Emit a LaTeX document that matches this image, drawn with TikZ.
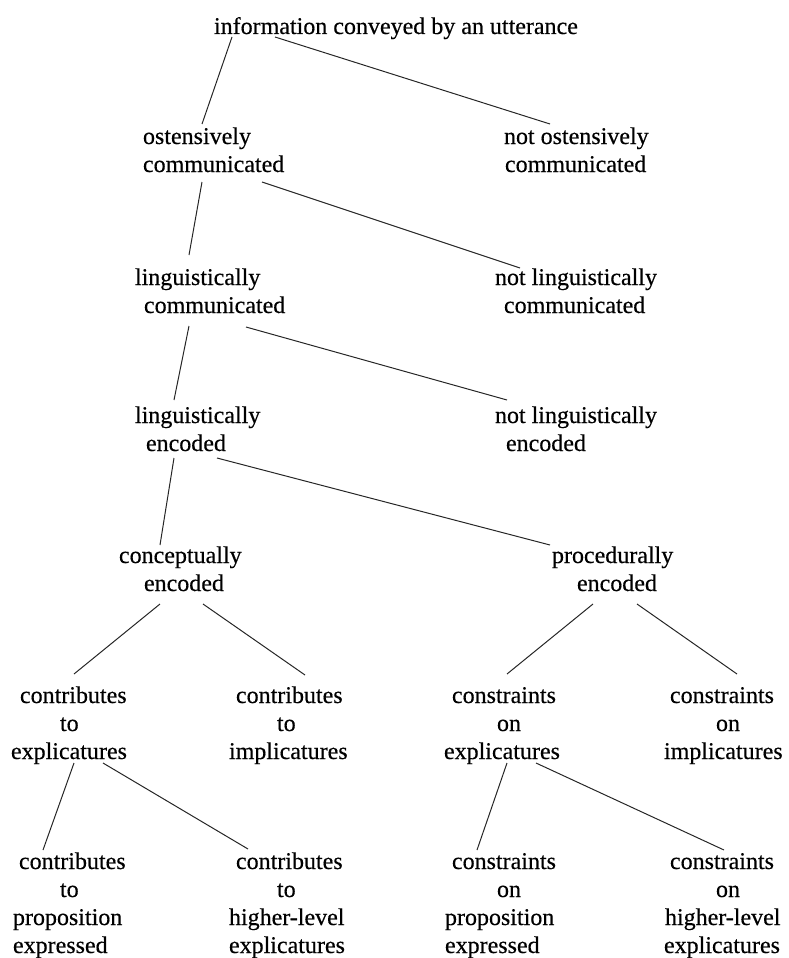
\documentclass[tikz,border=0pt]{standalone}
\usepackage{fontspec}
\setmainfont{Liberation Serif}
\newfontfamily\diagfont[FakeBold=0.4]{Liberation Serif}
\newcommand{\firststrut}{\rule{0pt}{17pt}}
\newcommand{\ind}[1]{\hspace*{#1pt}}
\tikzset{
  blk/.style={anchor=north west, inner sep=0pt, outer sep=0pt, align=left,
              font=\diagfont\fontsize{24}{28}\selectfont, text=black},
  conn/.style={line width=1pt, draw=black!85}
}
\begin{document}
\begin{tikzpicture}[x=1pt,y=1pt]
\useasboundingbox (0,0) rectangle (789,-958);

\node[blk] (info) at (214,-17) {\firststrut information conveyed by an utterance};

\node[blk] (ost) at (143,-127) {\firststrut ostensively\\communicated};
\node[blk] (nost) at (504,-127) {\firststrut not ostensively\\\ind{1}communicated};

\node[blk] (lingc) at (135,-268) {\firststrut linguistically\\\ind{9}communicated};
\node[blk] (nlingc) at (495,-268) {\firststrut not linguistically\\\ind{9}communicated};

\node[blk] (linge) at (135,-406) {\firststrut linguistically\\\ind{11}encoded};
\node[blk] (nlinge) at (495,-406) {\firststrut not linguistically\\\ind{11}encoded};

\node[blk] (conc) at (119,-546) {\firststrut conceptually\\\ind{25}encoded};
\node[blk] (proc) at (552,-546) {\firststrut procedurally\\\ind{25}encoded};

\node[blk] (cte) at (11,-686) {\firststrut\ind{9}contributes\\\ind{49}to\\explicatures};
\node[blk] (cti) at (229,-686) {\firststrut\ind{7}contributes\\\ind{48}to\\implicatures};
\node[blk] (coe) at (444,-686) {\firststrut\ind{8}constraints\\\ind{53}on\\explicatures};
\node[blk] (coi) at (664,-686) {\firststrut\ind{6}constraints\\\ind{52}on\\implicatures};

\node[blk] (ctp) at (13,-852) {\firststrut\ind{6}contributes\\\ind{47}to\\proposition\\expressed};
\node[blk] (cth) at (229,-852) {\firststrut\ind{7}contributes\\\ind{48}to\\higher-level\\explicatures};
\node[blk] (cop) at (445,-852) {\firststrut\ind{7}constraints\\\ind{52}on\\proposition\\expressed};
\node[blk] (coh) at (664,-852) {\firststrut\ind{6}constraints\\\ind{52}on\\\ind{1}higher-level\\explicatures};

% connectors
\draw[conn] ([shift={(18,-20)}]info.north west) -- ([shift={(59,3)}]ost.north west);
\draw[conn] ([shift={(61,-20)}]info.north west) -- ([shift={(46,3)}]nost.north west);

\draw[conn] ([shift={(59,-55)}]ost.north west) -- ([shift={(54,13)}]lingc.north west);
\draw[conn] ([shift={(119,-55)}]ost.north west) -- ([shift={(25,0)}]nlingc.north west);

\draw[conn] ([shift={(54,-58)}]lingc.north west) -- ([shift={(39,6)}]linge.north west);
\draw[conn] ([shift={(111,-59)}]lingc.north west) -- ([shift={(12,6)}]nlinge.north west);

\draw[conn] ([shift={(39,-52)}]linge.north west) -- ([shift={(41,1)}]conc.north west);
\draw[conn] ([shift={(82,-52)}]linge.north west) -- ([shift={(-2,1)}]proc.north west);

\draw[conn] ([shift={(41,-58)}]conc.north west) -- ([shift={(63,12)}]cte.north west);
\draw[conn] ([shift={(84,-58)}]conc.north west) -- ([shift={(76,11)}]cti.north west);
\draw[conn] ([shift={(41,-58)}]proc.north west) -- ([shift={(63,12)}]coe.north west);
\draw[conn] ([shift={(85,-58)}]proc.north west) -- ([shift={(73,12)}]coi.north west);

\draw[conn] ([shift={(63,-77)}]cte.north west) -- ([shift={(30,2)}]ctp.north west);
\draw[conn] ([shift={(92,-77)}]cte.north west) -- ([shift={(19,3)}]cth.north west);
\draw[conn] ([shift={(63,-77)}]coe.north west) -- ([shift={(32,2)}]cop.north west);
\draw[conn] ([shift={(92,-77)}]coe.north west) -- ([shift={(60,2)}]coh.north west);
\end{tikzpicture}
\end{document}
